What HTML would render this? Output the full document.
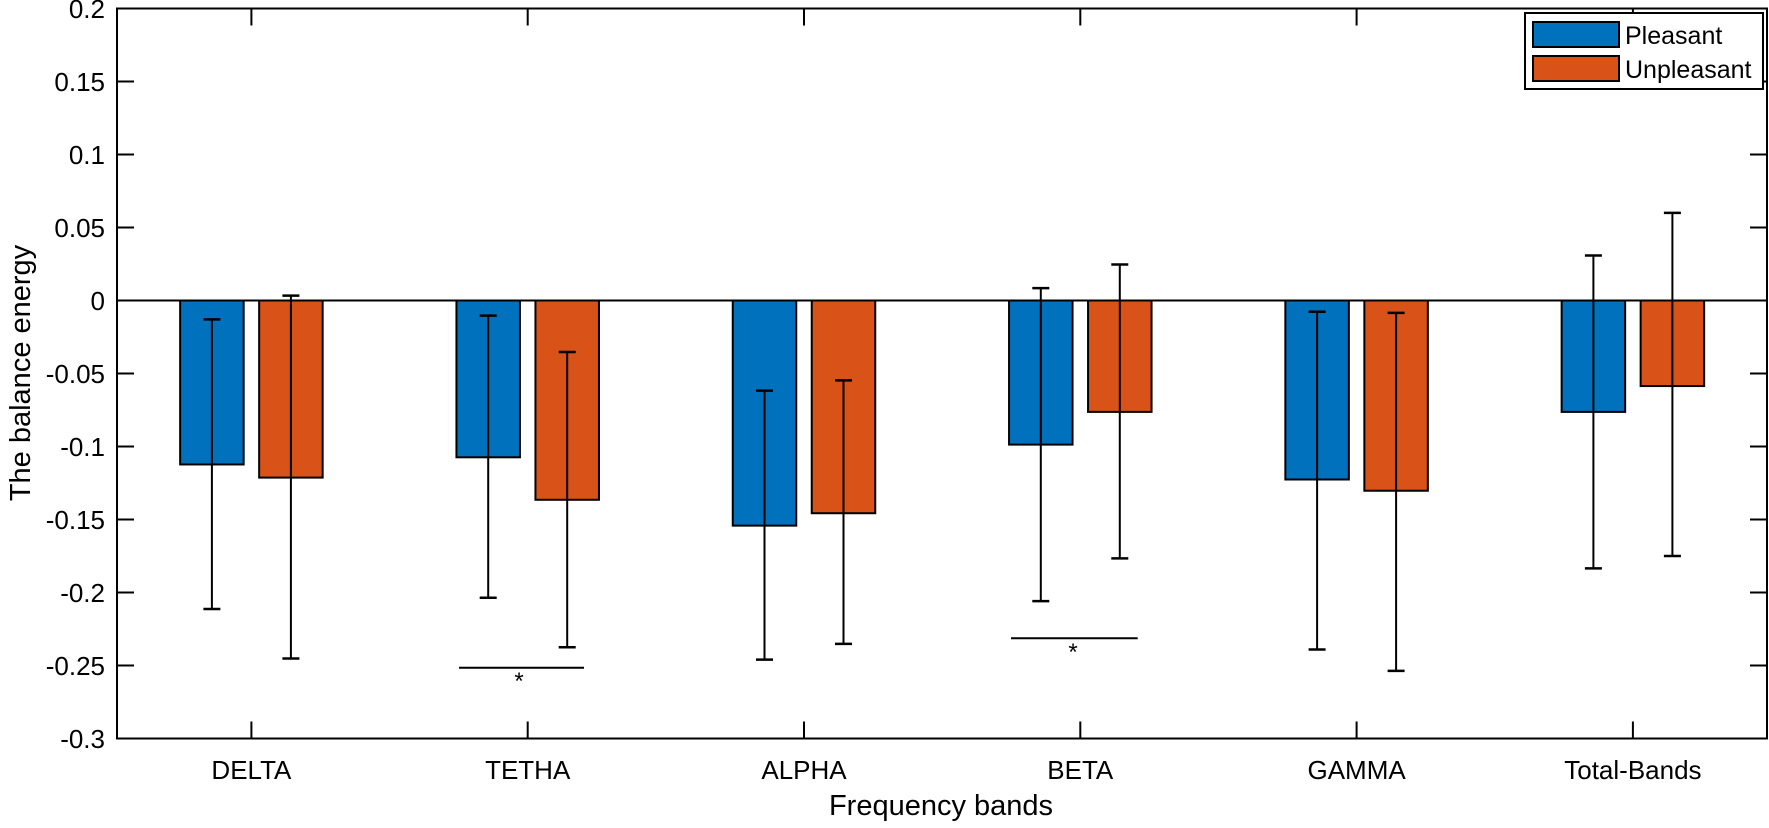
<!DOCTYPE html>
<html><head><meta charset="utf-8"><style>html,body{margin:0;padding:0;background:#fff}svg{display:block}text{font-family:"Liberation Sans",Arial,sans-serif;fill:#000}</style></head>
<body>
<svg width="1769" height="828" viewBox="0 0 1769 828" xmlns="http://www.w3.org/2000/svg">
<script>
(function(){
var L=117,R=1767,T=8.5,B=738.5;
function y(v){return 300.5-v*1460;}
var ns="http://www.w3.org/2000/svg";
var svg=document.querySelector('svg');
function el(n,a,p){var e=document.createElementNS(ns,n);for(var k in a)e.setAttribute(k,a[k]);(p||svg).appendChild(e);return e;}
var data=[
[-0.1123,-0.0129,-0.2113,-0.1213,0.0033,-0.2452],
[-0.1074,-0.0104,-0.2036,-0.1365,-0.0353,-0.2375],
[-0.1542,-0.0617,-0.2460,-0.1457,-0.0547,-0.2352],
[-0.0987,0.0085,-0.2059,-0.0763,0.0247,-0.1766],
[-0.1226,-0.0077,-0.2390,-0.1303,-0.0085,-0.2537],
[-0.0763,0.0308,-0.1835,-0.0586,0.0600,-0.1750]];
var names=["DELTA","TETHA","ALPHA","BETA","GAMMA","Total-Bands"];
for(var i=0;i<6;i++){
 var c=251.4+i*276.3;
 var d=data[i];
 [[c-39.5,d[0],"#0072BD"],[c+39.5,d[3],"#D95319"]].forEach(function(b){
  el('rect',{x:b[0]-31.75,y:300.5,width:63.5,height:y(b[1])-300.5,fill:b[2],stroke:'#000','stroke-width':2});
 });
}
el('line',{x1:L,y1:300.5,x2:R,y2:300.5,stroke:'#000','stroke-width':2});
for(var i=0;i<6;i++){
 var c=251.4+i*276.3,d=data[i];
 [[c-39.5,d[1],d[2]],[c+39.5,d[4],d[5]]].forEach(function(b){
  var x=b[0];
  el('line',{x1:x,y1:y(b[1]),x2:x,y2:y(b[2]),stroke:'#000','stroke-width':2});
  el('line',{x1:x-8.5,y1:y(b[1]),x2:x+8.5,y2:y(b[1]),stroke:'#000','stroke-width':2.5});
  el('line',{x1:x-8.5,y1:y(b[2]),x2:x+8.5,y2:y(b[2]),stroke:'#000','stroke-width':2.5});
 });
 el('line',{x1:c,y1:B,x2:c,y2:B-17,stroke:'#000','stroke-width':2});
 el('line',{x1:c,y1:T,x2:c,y2:T+17,stroke:'#000','stroke-width':2});
 var t=el('text',{x:c,y:779,'text-anchor':'middle','font-size':26});t.textContent=names[i];
}
el('rect',{x:L,y:T,width:R-L,height:B-T,fill:'none',stroke:'#000','stroke-width':2});
var labs=["0.2","0.15","0.1","0.05","0","-0.05","-0.1","-0.15","-0.2","-0.25","-0.3"];
for(var k=0;k<11;k++){
 var yy=T+k*73;
 el('line',{x1:L,y1:yy,x2:L+17,y2:yy,stroke:'#000','stroke-width':2});
 el('line',{x1:R,y1:yy,x2:R-17,y2:yy,stroke:'#000','stroke-width':2});
 var t=el('text',{x:105,y:yy+9.5,'text-anchor':'end','font-size':26});t.textContent=labs[k];
}
el('line',{x1:459,y1:667.7,x2:584,y2:667.7,stroke:'#000','stroke-width':2});
var s=el('text',{x:519,y:689,'text-anchor':'middle','font-size':24});s.textContent="*";
el('line',{x1:1011,y1:638.3,x2:1137.7,y2:638.3,stroke:'#000','stroke-width':2});
s=el('text',{x:1073,y:660,'text-anchor':'middle','font-size':24});s.textContent="*";
var t=el('text',{x:941,y:815,'text-anchor':'middle','font-size':29});t.textContent="Frequency bands";
t=el('text',{x:0,y:0,'text-anchor':'middle','font-size':29,transform:'translate(30,373) rotate(-90)'});t.textContent="The balance energy";
el('rect',{x:1525,y:13,width:238,height:76,fill:'#fff',stroke:'#000','stroke-width':2});
el('rect',{x:1533,y:22,width:86,height:25,fill:'#0072BD',stroke:'#000','stroke-width':2});
el('rect',{x:1533,y:56,width:86,height:25,fill:'#D95319',stroke:'#000','stroke-width':2});
t=el('text',{x:1625,y:44,'font-size':25});t.textContent="Pleasant";
t=el('text',{x:1625,y:78,'font-size':25});t.textContent="Unpleasant";
})();
</script>
</svg>
</body></html>
